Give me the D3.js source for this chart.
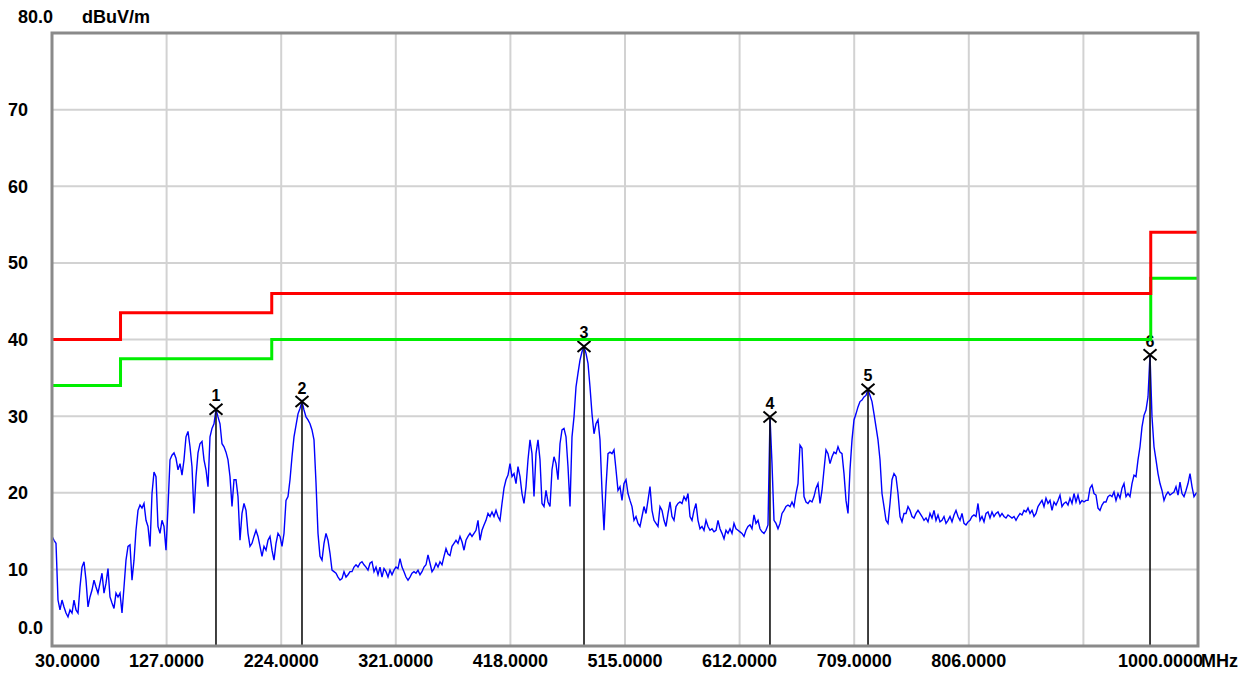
<!DOCTYPE html>
<html>
<head>
<meta charset="utf-8">
<script src="https://cdn.jsdelivr.net/npm/d3@7"></script>
<style>
  html, body { margin: 0; padding: 0; background: #ffffff; }
  svg { display: block; }
  text { font-family: "Liberation Sans", Arial, sans-serif; font-weight: bold; fill: #000; }
</style>
</head>
<body>
<svg id="chart" width="1246" height="673"></svg>
<script>
// Sweep range (MHz) and level range (dBuV/m)
const sweepStart = 30;
const sweepStop = 1000;
const levelMin = 0;
const levelMax = 80;

// Axis ticks
const freqTicks = [30, 127, 224, 321, 418, 515, 612, 709, 806, 903, 1000];
const freqTickLabels = ["30.0000", "127.0000", "224.0000", "321.0000", "418.0000", "515.0000", "612.0000", "709.0000", "806.0000", "", "1000.0000"];
const levelTicks = [70, 60, 50, 40, 30, 20, 10];
const levelTickLabels = ["70", "60", "50", "40", "30", "20", "10"];

// Limit lines: band edges (MHz) and limit levels (dBuV/m)
const limitEdges = [30, 88, 216, 960, 1000];
const limitRed = [40, 43.5, 46, 54];
const limitGreen = [34, 37.5, 40, 48];

// Measured trace, evenly spaced sweep points from 30 to 1000 MHz
const trace = [
  14.3, 13.8, 13.4, 6.0, 4.7, 6.0, 5.1, 4.3, 3.8, 4.7,
  4.3, 6.0, 4.7, 4.3, 7.7, 10.3, 11.0, 8.6, 5.1, 6.4,
  7.3, 8.6, 7.7, 6.9, 8.2, 9.5, 6.9, 8.2, 10.1, 6.4,
  5.6, 4.9, 6.9, 6.4, 6.9, 4.3, 7.7, 11.2, 13.0, 13.2,
  8.6, 11.2, 15.1, 17.7, 18.4, 18.0, 18.6, 16.4, 15.6, 13.0,
  19.9, 22.7, 22.1, 15.6, 14.7, 16.4, 15.6, 12.5, 18.2, 24.3,
  24.9, 25.2, 24.5, 23.0, 23.8, 22.3, 24.3, 27.3, 28.0, 26.0,
  23.4, 17.3, 22.1, 25.2, 26.4, 26.7, 24.3, 23.0, 20.8, 27.3,
  28.4, 29.0, 30.9, 29.9, 29.0, 26.4, 26.0, 25.3, 24.3, 22.1,
  18.2, 21.7, 21.7, 19.5, 13.8, 17.3, 18.6, 17.7, 14.7, 13.0,
  13.4, 14.3, 15.1, 14.3, 13.0, 11.7, 13.0, 12.5, 13.8, 14.3,
  12.5, 11.2, 13.4, 14.7, 14.3, 13.0, 14.7, 19.0, 19.5, 21.7,
  24.7, 27.3, 28.8, 30.3, 31.0, 31.9, 30.8, 29.9, 29.5, 29.0,
  28.2, 26.9, 21.3, 14.7, 11.7, 11.2, 13.4, 14.7, 13.8, 12.1,
  9.9, 9.7, 9.5, 9.0, 8.6, 8.8, 9.7, 9.0, 9.3, 9.7,
  9.7, 10.3, 10.6, 10.3, 10.8, 11.0, 10.6, 10.3, 9.9, 10.8,
  11.0, 9.7, 10.3, 9.3, 10.3, 9.0, 10.1, 9.7, 9.0, 9.9,
  9.3, 9.9, 10.3, 10.1, 11.4, 10.3, 9.7, 9.0, 8.6, 9.0,
  9.5, 9.7, 9.5, 9.9, 9.3, 9.7, 10.3, 10.6, 11.9, 10.8,
  9.7, 10.1, 10.8, 10.3, 11.0, 10.6, 11.7, 12.7, 12.0, 11.8,
  13.0, 13.4, 13.8, 13.4, 14.3, 13.6, 12.5, 13.8, 14.3, 14.7,
  14.3, 14.7, 15.1, 16.4, 13.8, 15.1, 15.8, 16.4, 17.3, 16.9,
  17.5, 16.9, 17.7, 16.9, 16.4, 18.6, 20.6, 21.7, 22.3, 23.8,
  22.1, 22.5, 21.2, 23.4, 22.1, 19.9, 18.6, 20.8, 24.3, 26.9,
  25.1, 19.5, 25.1, 26.9, 24.3, 18.6, 18.2, 20.3, 18.8, 18.2,
  23.0, 24.7, 23.8, 21.7, 26.4, 28.2, 28.4, 27.3, 23.4, 18.2,
  27.3, 29.9, 33.8, 35.6, 37.3, 38.4, 39.1, 38.2, 36.9, 33.8,
  30.3, 27.7, 29.0, 29.5, 26.9, 20.3, 15.1, 20.8, 25.1, 25.3,
  25.1, 25.6, 23.0, 20.3, 20.8, 19.0, 21.2, 21.7, 19.9, 19.0,
  18.2, 16.4, 16.9, 16.0, 15.6, 16.9, 18.2, 17.3, 19.0, 20.8,
  17.7, 16.4, 16.0, 15.6, 18.2, 17.7, 16.4, 15.6, 17.3, 18.8,
  16.9, 16.4, 18.2, 18.6, 18.8, 18.6, 19.5, 19.0, 19.9, 16.9,
  16.4, 17.7, 18.6, 16.4, 15.3, 15.6, 15.1, 16.4, 15.6, 15.1,
  15.3, 14.9, 15.1, 16.4, 15.3, 14.7, 14.0, 15.1, 14.7, 15.3,
  14.7, 16.0, 15.3, 15.1, 14.9, 14.7, 14.3, 15.1, 15.6, 15.8,
  15.3, 17.1, 16.0, 16.4, 15.3, 14.9, 14.7, 15.1, 15.8, 29.9,
  23.8, 16.4, 16.0, 15.3, 16.0, 17.3, 17.7, 18.2, 18.4, 18.2,
  18.8, 18.2, 19.9, 21.2, 26.2, 25.8, 19.5, 18.8, 18.6, 19.0,
  18.8, 19.5, 20.6, 21.2, 18.6, 20.3, 23.0, 25.6, 25.1, 23.8,
  24.7, 25.3, 25.1, 26.0, 25.3, 25.1, 22.5, 19.0, 17.3, 23.0,
  26.9, 29.5, 30.3, 31.2, 31.9, 32.1, 32.5, 32.7, 33.5, 32.7,
  31.9, 30.3, 28.6, 26.9, 24.3, 19.9, 18.2, 16.4, 16.0, 18.6,
  21.7, 22.5, 22.1, 19.9, 16.9, 16.2, 17.3, 17.3, 18.2, 17.7,
  16.9, 16.7, 17.3, 17.7, 17.3, 16.9, 16.4, 16.7, 16.2, 17.3,
  16.7, 17.7, 16.4, 17.1, 16.2, 16.4, 16.9, 16.0, 16.4, 16.9,
  16.2, 17.1, 17.7, 16.9, 16.4, 17.3, 16.0, 15.8, 16.2, 16.4,
  16.9, 17.1, 16.9, 18.6, 16.4, 16.9, 16.2, 17.3, 17.5, 16.7,
  17.5, 16.9, 17.3, 17.5, 16.9, 17.3, 16.9, 16.7, 17.1, 16.9,
  16.7, 16.9, 16.4, 16.9, 17.3, 17.1, 17.7, 17.5, 18.0, 17.3,
  17.7, 16.9, 17.3, 18.2, 18.6, 19.0, 18.2, 19.3, 18.6, 19.0,
  17.7, 18.8, 18.4, 19.0, 19.7, 18.2, 18.6, 18.8, 18.4, 19.3,
  18.6, 19.9, 18.8, 19.7, 18.6, 19.0, 18.8, 19.0, 19.0, 20.6,
  21.0, 19.9, 19.7, 18.0, 17.7, 18.4, 18.8, 18.8, 19.5, 19.7,
  19.5, 20.1, 19.0, 19.9, 19.3, 20.6, 21.2, 19.5, 19.9, 19.5,
  21.2, 22.3, 22.1, 24.3, 26.0, 28.6, 30.1, 30.8, 32.5, 38.0,
  29.9, 26.0, 24.3, 22.5, 21.2, 20.3, 19.0, 19.7, 20.1, 19.7,
  19.9, 20.1, 20.8, 19.7, 21.4, 19.9, 19.5, 20.3, 21.2, 22.5,
  20.8, 19.5, 19.9, 20.1
];

// Peak markers
const markerIds = ["1", "2", "3", "4", "5", "6"];
const markerFreq = [168.8, 241.6, 480.3, 637.7, 720.7, 959.4];
const markerLevel = [30.9, 31.9, 39.1, 29.9, 33.5, 38.0];

const svg = d3.select("#chart");
const plot = { left: 52, right: 1198, top: 33, bottom: 646 };

const x = d3.scaleLinear().domain([sweepStart, sweepStop]).range([plot.left, plot.right]);
const y = d3.scaleLinear().domain([levelMin, levelMax]).range([plot.bottom, plot.top]);

svg.append("defs").append("clipPath").attr("id", "plotClip")
  .append("rect")
  .attr("x", plot.left).attr("y", plot.top)
  .attr("width", plot.right - plot.left).attr("height", plot.bottom - plot.top);

// Grid
const grid = svg.append("g").attr("stroke", "#d2d2d2").attr("stroke-width", 2);
grid.selectAll("line.v").data(freqTicks.slice(1, -1)).join("line")
  .attr("x1", d => x(d)).attr("x2", d => x(d))
  .attr("y1", plot.top).attr("y2", plot.bottom);
grid.selectAll("line.h").data(levelTicks).join("line")
  .attr("x1", plot.left).attr("x2", plot.right)
  .attr("y1", d => y(d)).attr("y2", d => y(d));

// Trace
const step = (sweepStop - sweepStart) / (trace.length - 1);
const tracePts = trace.map((v, i) => [sweepStart + i * step, v]);
svg.append("path")
  .datum(tracePts)
  .attr("clip-path", "url(#plotClip)")
  .attr("fill", "none")
  .attr("stroke", "#0000ff")
  .attr("stroke-width", 1.4)
  .attr("stroke-linejoin", "miter")
  .attr("d", d3.line().x(d => x(d[0])).y(d => y(d[1])));

// Markers
const markers = markerIds.map((id, i) => ({ id, f: markerFreq[i], v: markerLevel[i] }));
const mg = svg.append("g");
mg.selectAll("line.stem").data(markers).join("line")
  .attr("x1", d => x(d.f)).attr("x2", d => x(d.f))
  .attr("y1", d => y(d.v)).attr("y2", plot.bottom)
  .attr("stroke", "#111").attr("stroke-width", 1.6);
mg.selectAll("path.cross").data(markers).join("path")
  .attr("d", d => {
    const cx = x(d.f), cy = y(d.v), w = 6.5, h = 5.5;
    return `M${cx - w},${cy - h}L${cx + w},${cy + h}M${cx - w},${cy + h}L${cx + w},${cy - h}`;
  })
  .attr("stroke", "#000").attr("stroke-width", 2).attr("fill", "none");
mg.selectAll("text.mk").data(markers).join("text")
  .attr("x", d => x(d.f)).attr("y", d => y(d.v) - 8)
  .attr("text-anchor", "middle")
  .style("font-size", "16px")
  .text(d => d.id);

// Limit lines
function limitPath(levels) {
  const pts = [];
  levels.forEach((v, i) => {
    pts.push([limitEdges[i], v]);
    pts.push([limitEdges[i + 1], v]);
  });
  return pts;
}
const lim = svg.append("g").attr("fill", "none").attr("stroke-width", 3);
lim.append("path").datum(limitPath(limitGreen)).attr("stroke", "#00ee00")
  .attr("d", d3.line().x(d => x(d[0])).y(d => y(d[1])));
lim.append("path").datum(limitPath(limitRed)).attr("stroke", "#ff0000")
  .attr("d", d3.line().x(d => x(d[0])).y(d => y(d[1])));

// Frame
svg.append("rect")
  .attr("x", plot.left).attr("y", plot.top)
  .attr("width", plot.right - plot.left).attr("height", plot.bottom - plot.top)
  .attr("fill", "none").attr("stroke", "#8a8a8a").attr("stroke-width", 3);

// Level axis labels
const fs = "18px";
svg.selectAll("text.yl").data(levelTicks).join("text")
  .attr("x", 8).attr("y", d => y(d) + 6.5)
  .style("font-size", fs)
  .text((d, i) => levelTickLabels[i]);
svg.append("text").attr("x", 18).attr("y", y(levelMin) - 12).style("font-size", fs).text("0.0");
svg.append("text").attr("x", 18).attr("y", 23).style("font-size", fs).text("80.0");
svg.append("text").attr("x", 82).attr("y", 23).style("font-size", fs).text("dBuV/m");

// Frequency axis labels
const last = freqTicks.length - 1;
svg.selectAll("text.xl").data(freqTicks).join("text")
  .attr("x", (d, i) => i === 0 ? x(d) - 17 : i === last ? x(d) + 5 : x(d))
  .attr("y", 667)
  .attr("text-anchor", (d, i) => i === 0 ? "start" : i === last ? "end" : "middle")
  .style("font-size", fs)
  .text((d, i) => freqTickLabels[i]);
svg.append("text").attr("x", x(sweepStop) + 3).attr("y", 667).style("font-size", fs).text("MHz");
</script>
</body>
</html>
